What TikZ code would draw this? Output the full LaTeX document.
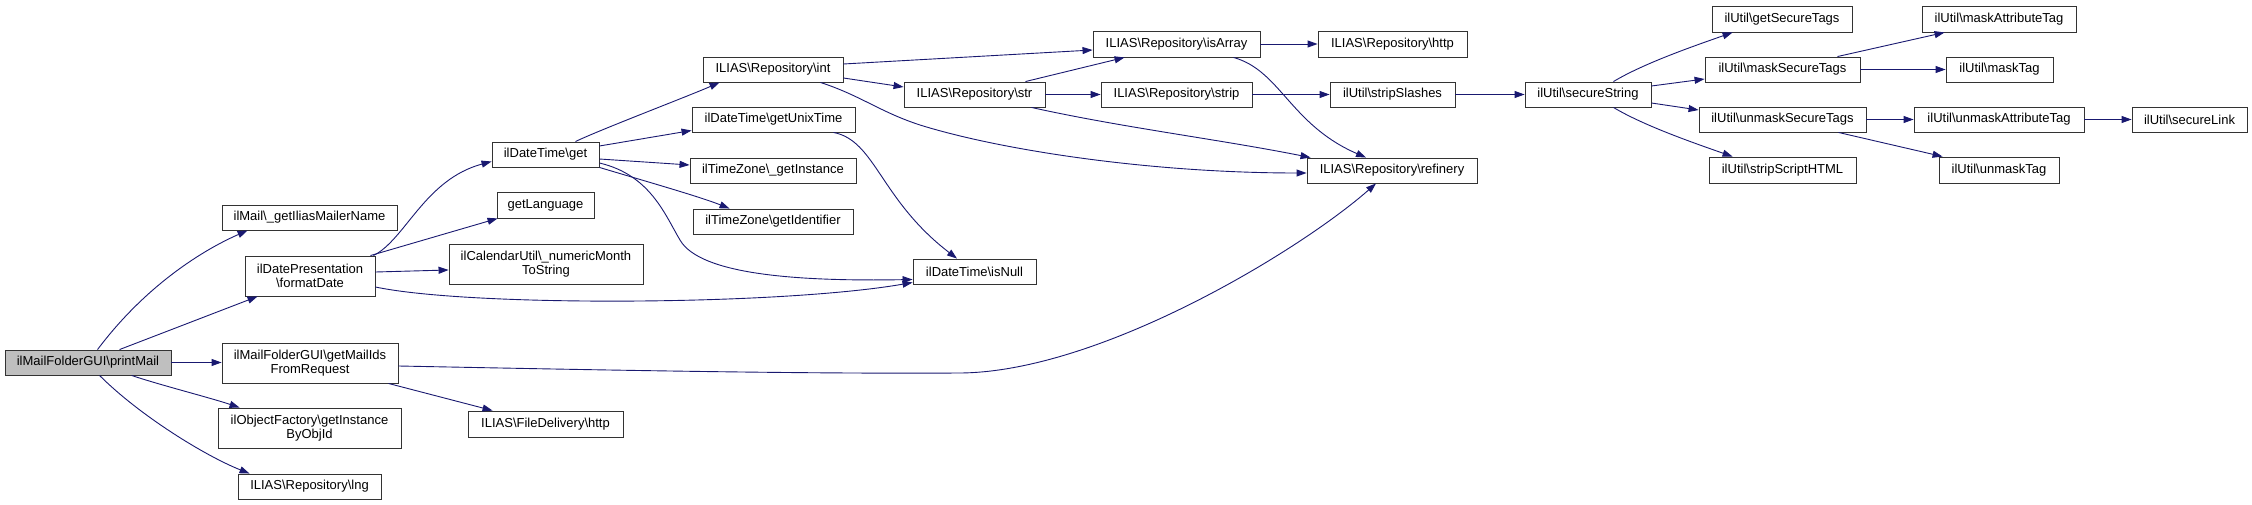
\documentclass[tikz,border=0pt]{standalone}
\usepackage{fontspec}
\setmainfont{Liberation Sans}
\usetikzlibrary{arrows.meta}
\definecolor{navy}{RGB}{25,25,112}
\newcommand{\BS}{\textbackslash{}}
\newcommand{\gbox}[7][]{\node[fbox,#1,minimum width={#5-#3},minimum height={#6-#4}] (#2) at ({(#3+#5)/2},{(#4+#6)/2}) {#7};}
\tikzset{
  fbox/.style={draw=black!80, line width=0.9pt, fill=white, inner sep=0pt, align=center,
    font=\fontsize{13}{14.5}\selectfont},
  link/.style={draw=navy, line width=0.9pt, -{Triangle[length=10pt,width=7pt]}}
}
\begin{document}
\begin{tikzpicture}[x=1pt,y=-1pt]
\useasboundingbox (0,0) rectangle (2252,505);
% nodes
\gbox[fill=black!25]{pm}{5}{350}{171}{375}{ilMailFolderGUI\BS printMail}
\gbox{mail}{222}{205}{397}{230}{ilMail\BS\_getIliasMailerName}
\gbox{fd}{245}{256}{375}{296}{ilDatePresentation\\\BS formatDate}
\gbox{gm}{222}{343}{398}{383}{ilMailFolderGUI\BS getMailIds\\FromRequest}
\gbox{gi}{218}{408}{401}{448}{ilObjectFactory\BS getInstance\\ByObjId}
\gbox{lng}{238}{474}{381}{499}{ILIAS\BS Repository\BS lng}
\gbox{get}{492}{142}{599}{167}{ilDateTime\BS get}
\gbox{gl}{497}{192}{594}{218}{getLanguage}
\gbox{nm}{449}{244}{643}{284}{ilCalendarUtil\BS\_numericMonth\\ToString}
\gbox{fdh}{468}{411}{623}{437}{ILIAS\BS FileDelivery\BS http}
\gbox{int}{703}{57}{843}{82}{ILIAS\BS Repository\BS int}
\gbox{gut}{692}{107}{855}{132}{ilDateTime\BS getUnixTime}
\gbox{gti}{690}{158}{856}{183}{ilTimeZone\BS\_getInstance}
\gbox{gid}{693}{209}{853}{234}{ilTimeZone\BS getIdentifier}
\gbox{isnull}{913}{259}{1036}{284}{ilDateTime\BS isNull}
\gbox{isarr}{1093}{31}{1260}{57}{ILIAS\BS Repository\BS isArray}
\gbox{http}{1318}{31}{1467}{57}{ILIAS\BS Repository\BS http}
\gbox{str}{904}{82}{1045}{107}{ILIAS\BS Repository\BS str}
\gbox{strip}{1101}{82}{1252}{107}{ILIAS\BS Repository\BS strip}
\gbox{ss}{1330}{82}{1455}{107}{ilUtil\BS stripSlashes}
\gbox{ref}{1307}{158}{1477}{183}{ILIAS\BS Repository\BS refinery}
\gbox{sec}{1525}{82}{1651}{107}{ilUtil\BS secureString}
\gbox{gst}{1712}{6}{1852}{32}{ilUtil\BS getSecureTags}
\gbox{mat}{1922}{6}{2076}{32}{ilUtil\BS maskAttributeTag}
\gbox{mst}{1705}{57}{1860}{82}{ilUtil\BS maskSecureTags}
\gbox{mtag}{1946}{57}{2053}{82}{ilUtil\BS maskTag}
\gbox{ust}{1699}{107}{1866}{132}{ilUtil\BS unmaskSecureTags}
\gbox{uat}{1914}{107}{2084}{132}{ilUtil\BS unmaskAttributeTag}
\gbox{sl}{2132}{107}{2247}{132}{ilUtil\BS secureLink}
\gbox{ssh}{1709}{157}{1856}{183}{ilUtil\BS stripScriptHTML}
\gbox{utag}{1939}{157}{2059}{183}{ilUtil\BS unmaskTag}
% edges from printMail
\draw[link] ([xshift=93pt]pm.north west) .. controls +(45,-60) and +(-50,22) .. ([xshift=26pt]mail.south west);
\draw[link] ([xshift=115pt]pm.north west) -- ([xshift=13pt]fd.south west);
\draw[link] (pm.east) -- (pm.east -| gm.west);
\draw[link] ([xshift=127pt]pm.south west) .. controls +(30,10) and +(-30,-10) .. ([xshift=22pt]gi.north west);
\draw[link] ([xshift=95pt]pm.south west) .. controls +(40,40) and +(-45,-18) .. ([xshift=12pt]lng.north west);
% formatDate
\draw[link] ([xshift=-2pt]fd.north east) .. controls +(32,-16) and +(-67,18) .. ([yshift=-7pt]get.west);
\draw[link] ([xshift=-5pt]fd.north east) -- ([xshift=1pt]gl.south west);
\draw[link] ([yshift=4pt]fd.east) -- ([yshift=-6pt]nm.west);
\draw[link] ([yshift=-11pt]fd.east) .. controls +(95,20) and +(-133,23) .. ([yshift=-11pt]isnull.west);
% getMailIds
\draw[link] ([yshift=-3pt]gm.east) .. controls +(202,4) and +(-160,1) .. (960,373) .. controls +(140,-1) and +(-76,67) .. ([xshift=-16pt]ref.south);
\draw[link] ([xshift=-10pt]gm.south east) -- ([xshift=25pt]fdh.north west);
% get
\draw[link] ([xshift=-24pt]get.north east) .. controls +(25,-12) and +(-32,14) .. ([xshift=17pt]int.south west);
\draw[link] ([yshift=8.5pt]get.east) -- ([yshift=-11pt]gut.west);
\draw[link] ([yshift=-4.5pt]get.east) -- ([yshift=5.5pt]gti.west);
\draw[link] (get.south east) .. controls +(40,12) and +(-30,-12) .. ([xshift=37pt]gid.north west);
\draw[link] ([yshift=-8.5pt]get.east) .. controls +(51,12) and +(-15,-25) .. (680,240) .. controls +(20,35) and +(-113,2) .. ([yshift=-8pt]isnull.west);
% int
\draw[link] ([yshift=5.5pt]int.east) -- ([yshift=-6pt]isarr.west);
\draw[link] ([yshift=-8.5pt]int.east) -- ([yshift=7.5pt]str.west);
\draw[link] ([xshift=-23pt]int.south east) .. controls +(40,13) and +(-40,-13) .. (920,125) .. controls +(80,25) and +(-157,0) .. ([yshift=-2.5pt]ref.west);
% getUnixTime
\draw[link] ([xshift=-22pt]gut.south east) .. controls +(42,8) and +(-77,-59) .. ([xshift=-17.5pt]isnull.north);
% str
\draw[link] ([xshift=-20pt]str.north east) -- ([xshift=32pt]isarr.south west);
\draw[link] (str.east) -- (strip.west);
\draw[link] ([xshift=-14pt]str.south east) .. controls +(90,20) and +(-90,-18) .. ([xshift=4pt]ref.north west);
% isArray
\draw[link] (isarr.east) -- (http.west);
\draw[link] ([xshift=-27pt]isarr.south east) .. controls +(47,13) and +(-76,-33) .. ([xshift=-26pt]ref.north);
% strip chain
\draw[link] (strip.east) -- (ss.west);
\draw[link] (ss.east) -- (sec.west);
% secureString
\draw[link] ([xshift=-38pt]sec.north east) .. controls +(30,-18) and +(-40,14) .. ([xshift=21pt]gst.south west);
\draw[link] ([yshift=8.5pt]sec.east) -- ([yshift=-9.5pt]mst.west);
\draw[link] ([yshift=-8.5pt]sec.east) -- ([yshift=9.5pt]ust.west);
\draw[link] ([xshift=-38pt]sec.south east) .. controls +(30,18) and +(-40,-14) .. ([xshift=24pt]ssh.north west);
% maskSecureTags
\draw[link] ([xshift=-23pt]mst.north east) -- ([xshift=23pt]mat.south west);
\draw[link] (mst.east) -- (mtag.west);
% unmaskSecureTags
\draw[link] (ust.east) -- (uat.west);
\draw[link] ([xshift=-28pt]ust.south east) -- ([xshift=4pt]utag.north west);
\draw[link] (uat.east) -- (sl.west);
\end{tikzpicture}
\end{document}
